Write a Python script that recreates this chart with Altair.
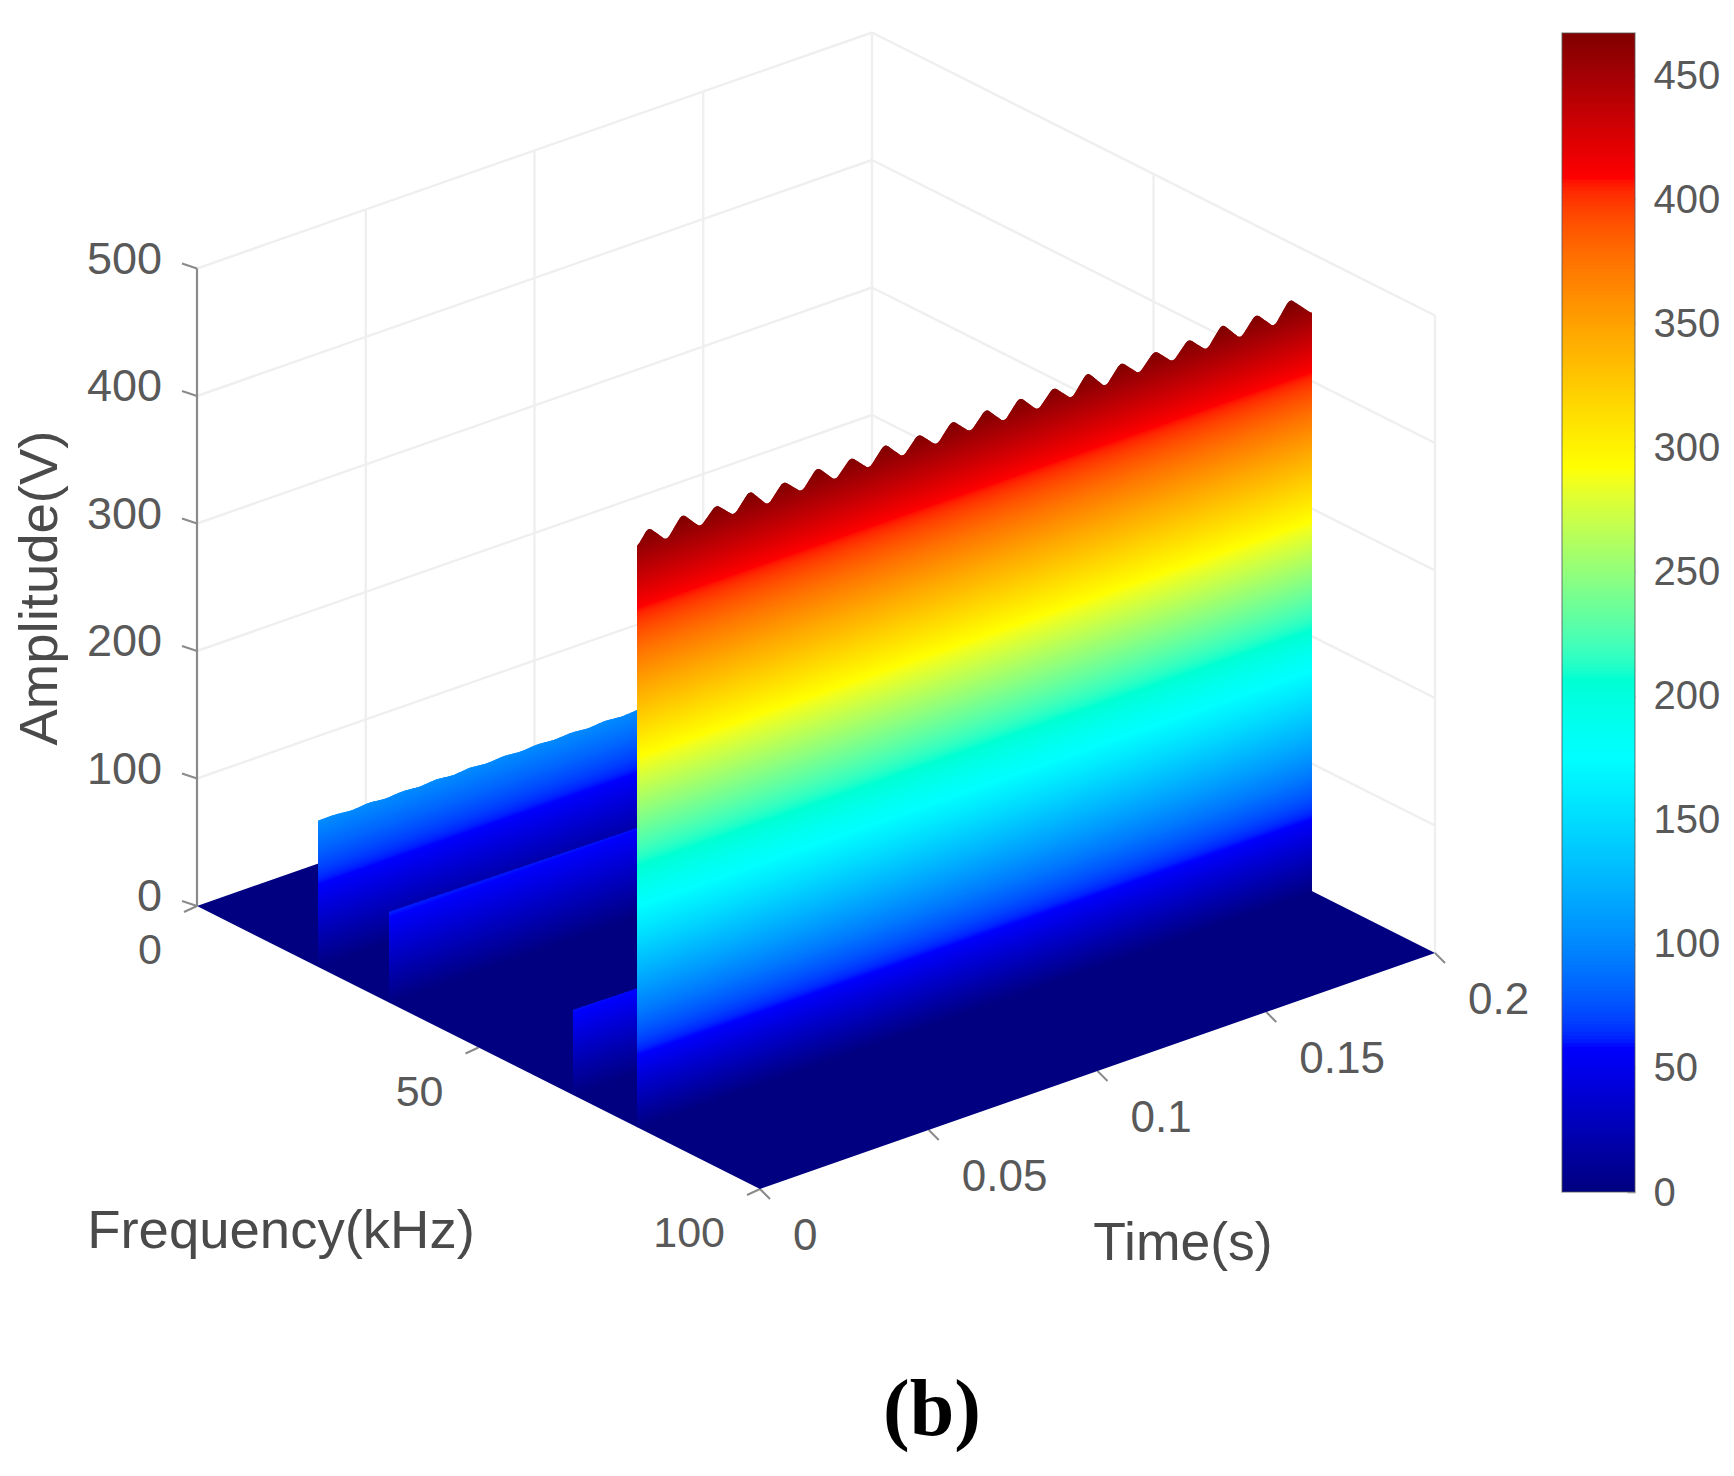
import altair as alt
import numpy as np
import pandas as pd

alt.data_transformers.disable_max_rows()

# ---- values -----------------------------------------------------------
amp_ticks = [0, 100, 200, 300, 400, 500]
freq_ticks = [0, 50, 100]
time_ticks = [0, 0.05, 0.1, 0.15, 0.2]
time_labels = ["0", "0.05", "0.1", "0.15", "0.2"]
cbar_ticks = [0, 50, 100, 150, 200, 250, 300, 350, 400, 450]
CMAX = 467

# main wall: ripple crest and trough amplitudes (V) over 0..0.2 s
main_freq = 78.15
main_t = [0, 0.0034, 0.0088, 0.0134, 0.0188, 0.0234, 0.0288, 0.0334, 0.0388, 0.0434, 0.0488,
          0.0534, 0.0588, 0.0634, 0.0688, 0.0734, 0.0788, 0.0834, 0.0888, 0.0934, 0.0988,
          0.1034, 0.1088, 0.1134, 0.1188, 0.1234, 0.1288, 0.1334, 0.1388, 0.1434, 0.1488,
          0.1534, 0.1588, 0.1634, 0.1688, 0.1734, 0.1788, 0.1834, 0.1888, 0.1934, 0.2]
main_amp = [455, 467.4, 452, 468.6, 453.3, 466.4, 453.3, 468.4, 451.8, 466.5, 453, 468.2, 452.9,
            466.8, 452.8, 468, 452.7, 466.6, 452.6, 467.7, 453.8, 467.7, 452.4, 467.6, 452.3,
            466.2, 452.2, 468.7, 452.1, 467.3, 453.3, 467.1, 453.2, 467, 453.1, 469.5, 453,
            468.1, 453, 470.6, 453]

# lower walls
side_walls_freq = [21.5, 34.1, 66.8]
side_t_1 = [0, 0.005, 0.01, 0.015, 0.02, 0.025, 0.03, 0.035, 0.04, 0.045, 0.05, 0.055, 0.06,
            0.065, 0.07, 0.075, 0.08, 0.085, 0.09, 0.095, 0.1, 0.2]
side_amp_1 = [114.5, 114.8, 113.4, 114.8, 113.4, 114.6, 113.4, 114.6, 113.2, 114.6, 113.2, 114.4,
              113.2, 114.4, 113.2, 114.2, 113, 114.2, 113, 114, 113, 113]
side_t_2 = [0, 0.05, 0.1, 0.2]
side_amp_2 = [71, 69.5, 68, 68]
side_t_3 = [0, 0.02, 0.2]
side_amp_3 = [66.7, 66, 66]
# colour reads a little below the drawn height on the lower walls
side_colour_factor = [0.88, 0.85, 0.88]

# ---- view of the 3-D axes ---------------------------------------------
ORIGIN = (197.0, 906.0)
F_VEC = (563.0, 283.0)   # f = 0 -> 100
T_VEC = (675.0, -236.0)  # t = 0 -> 0.2
Z_PX = 1.275


def px(t, f):
    return ORIGIN[0] + np.asarray(f) / 100 * F_VEC[0] + np.asarray(t) / 0.2 * T_VEC[0]


def py(t, f, a=0.0):
    return ORIGIN[1] + np.asarray(f) / 100 * F_VEC[1] + np.asarray(t) / 0.2 * T_VEC[1] - np.asarray(a) * Z_PX


XS = alt.Scale(domain=[8, 1726], range=[0, 1718], nice=False, zero=False)
YS = alt.Scale(domain=[8, 1468], range=[0, 1460], nice=False, zero=False)
CS = alt.Scale(
    domain=[0, 0.125 * CMAX, 0.375 * CMAX, 0.625 * CMAX, 0.875 * CMAX, CMAX],
    range=["#000080", "#0000ff", "#00ffff", "#ffff00", "#ff0000", "#800000"],
    clamp=True,
)
X = alt.X("x:Q", scale=XS, axis=None)
Y = alt.Y("y:Q", scale=YS, axis=None)


def wall_layer(f, t_nodes, amps, colour_factor=1.0):
    rows = []
    lo = min(amps)
    fine = np.arange(t_nodes[0], t_nodes[-1] + 1e-9, 0.0004)
    kernel = np.ones(5) / 5
    step = 1.5
    for i, level in enumerate(np.arange(0, max(amps) + step, step)):
        a_lo, a_hi = level, level + step
        if a_hi <= lo - 1.5:
            ts = np.array([t_nodes[0], t_nodes[-1]])
            r = np.interp(ts, t_nodes, amps)
        else:
            ts = fine
            r = np.interp(ts, t_nodes, amps)
            # crests are rounded off in the picture
            pad = np.pad(r, 2, mode="edge")
            r = np.convolve(pad, kernel, mode="valid")
        top = np.minimum(a_hi, r)
        bot = np.minimum(max(a_lo - step, 0), r)
        for tt, tp, bt in zip(ts, top, bot):
            rows.append({"x": float(px(tt, f)), "y": float(py(tt, f, tp)), "y2": float(py(tt, f, bt)),
                         "level": float(level + step / 2) * colour_factor, "band": f"b{i:04d}"})
    return alt.Chart(pd.DataFrame(rows)).mark_area(interpolate="linear", strokeWidth=0).encode(
        x=X, y=Y, y2="y2:Q",
        color=alt.Color("level:Q", scale=CS, legend=None),
        detail="band:N",
    )


def segments(pairs):
    return pd.DataFrame([{"x": float(a), "y": float(b), "x2": float(c), "y2": float(d)} for a, b, c, d in pairs])


def rule_layer(df, color, width):
    return alt.Chart(df).mark_rule(color=color, strokeWidth=width).encode(x=X, x2="x2:Q", y=Y, y2="y2:Q")


def text_layer(rows, size, color, align="center", baseline="middle", dx=0, dy=0, **kw):
    return alt.Chart(pd.DataFrame(rows)).mark_text(
        fontSize=size, color=color, align=align, baseline=baseline, dx=dx, dy=dy,
        font=kw.pop("font", "Liberation Sans"), **kw
    ).encode(x=X, y=Y, text="label:N")


# ---- grid on the two back walls ---------------------------------------
grid = []
for a in amp_ticks[1:]:
    grid.append((px(0, 0), py(0, 0, a), px(0.2, 0), py(0.2, 0, a)))
    grid.append((px(0.2, 0), py(0.2, 0, a), px(0.2, 100), py(0.2, 100, a)))
for t in time_ticks[1:]:
    grid.append((px(t, 0), py(t, 0, 0), px(t, 0), py(t, 0, 500)))
for f in freq_ticks[1:]:
    grid.append((px(0.2, f), py(0.2, f, 0), px(0.2, f), py(0.2, f, 500)))
grid_layer = rule_layer(segments(grid), "#efefef", 2.4)

# ---- floor ------------------------------------------------------------
corner_x = [float(px(0, 0)), float(px(0, 100)), float(px(0.2, 0)), float(px(0.2, 100))]
upper = np.interp(corner_x, [px(0, 0), px(0.2, 0), px(0.2, 100)], [py(0, 0), py(0.2, 0), py(0.2, 100)])
lower = np.interp(corner_x, [px(0, 0), px(0, 100), px(0.2, 100)], [py(0, 0), py(0, 100), py(0.2, 100)])
floor = alt.Chart(pd.DataFrame({"x": corner_x, "y": upper, "y2": lower})).mark_area(color="#000080").encode(
    x=X, y=Y, y2="y2:Q"
)

# ---- axis lines, ticks and labels -------------------------------------
z_axis = rule_layer(segments([(px(0, 0), py(0, 0, 0), px(0, 0), py(0, 0, 500))]), "#8a8a8a", 2.2)
ticks = []
for a in amp_ticks:
    ticks.append((px(0, 0), py(0, 0, a), px(0, 0) - 15, py(0, 0, a) - 5))
for f in freq_ticks:
    ticks.append((px(0, f), py(0, f), px(0, f) - 13, py(0, f) + 6))
for t in time_ticks:
    ticks.append((px(t, 100), py(t, 100), px(t, 100) + 10, py(t, 100) + 10))
tick_layer = rule_layer(segments(ticks), "#8a8a8a", 2)

GREY = "#595959"
z_labels = text_layer([{"x": float(px(0, 0)), "y": float(py(0, 0, a)), "label": str(a)} for a in amp_ticks],
                      45, GREY, align="right", dx=-35, dy=-9)
f_labels = text_layer([{"x": float(px(0, f)), "y": float(py(0, f)), "label": str(f)} for f in freq_ticks],
                      43, GREY, align="right", dx=-35, dy=45)
t_labels = text_layer([{"x": float(px(t, 100)), "y": float(py(t, 100)), "label": l}
                       for t, l in zip(time_ticks, time_labels)],
                      44, GREY, align="left", dx=33, dy=48)
DARK = "#4a4a4a"
freq_title = text_layer([{"x": 281, "y": 1232, "label": "Frequency(kHz)"}], 54.5, DARK)
time_title = text_layer([{"x": 1183, "y": 1244, "label": "Time(s)"}], 53.5, DARK)
amp_title = text_layer([{"x": 41, "y": 588, "label": "Amplitude(V)"}], 54.5, DARK, angle=270)
panel_title = text_layer([{"x": 932, "y": 1411, "label": "(b)"}], 80, "#000000",
                         font="Liberation Serif", fontWeight="bold")

# ---- colour bar -------------------------------------------------------
levels = np.arange(0, CMAX, 1.5)
cbar_df = pd.DataFrame({"level": levels, "top": np.minimum(levels + 3, CMAX),
                        "mid": np.minimum(levels + 0.75, CMAX), "x": 1562.0, "x2": 1635.0})
CY = alt.Scale(domain=[0, CMAX], range=[1184, 25], nice=False, zero=False)
cbar = alt.Chart(cbar_df).mark_rect().encode(
    x=X, x2="x2:Q",
    y=alt.Y("level:Q", scale=CY, axis=alt.Axis(
        orient="right", offset=-99, values=cbar_ticks, title=None, grid=False, domain=False,
        tickSize=8, tickWidth=2, tickColor="#00000044", labelFontSize=40, labelColor=GREY,
        labelFont="Liberation Sans", labelPadding=18, labelOverlap=False, labelFlush=False,
        labelOffset=1)),
    y2="top:Q",
    color=alt.Color("mid:Q", scale=CS, legend=None),
)
cbar_box = alt.Chart(pd.DataFrame({"level": [0], "top": [CMAX], "x": [1562.0], "x2": [1635.0]})).mark_rect(
    fillOpacity=0, stroke="#555555", strokeOpacity=0.55, strokeWidth=1.5
).encode(x=X, x2="x2:Q", y=alt.Y("level:Q", scale=CY, axis=None), y2="top:Q")

chart = alt.layer(
    grid_layer,
    z_axis,
    tick_layer,
    floor,
    wall_layer(side_walls_freq[0], side_t_1, side_amp_1, side_colour_factor[0]),
    wall_layer(side_walls_freq[1], side_t_2, side_amp_2, side_colour_factor[1]),
    wall_layer(side_walls_freq[2], side_t_3, side_amp_3, side_colour_factor[2]),
    wall_layer(main_freq, main_t, main_amp),
    z_labels, f_labels, t_labels,
    freq_title, time_title, amp_title, panel_title,
    cbar, cbar_box,
).resolve_scale(y="independent").properties(
    width=1718, height=1460, padding=0, autosize="none", background="white"
).configure_view(stroke=None)

chart.save("out.html", embed_options={"renderer": "svg", "actions": False})
